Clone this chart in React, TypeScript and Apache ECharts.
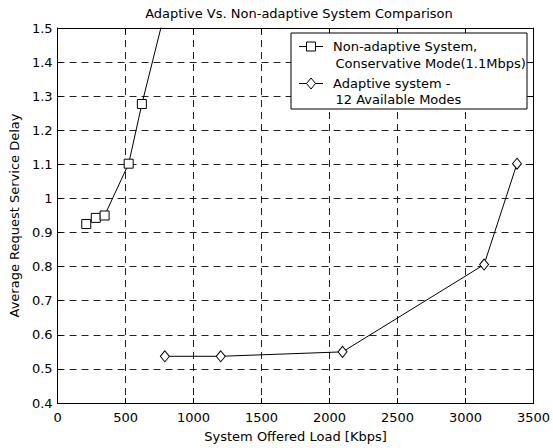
import React, { useEffect, useRef } from "react";
import * as echarts from "echarts";

const titleText = "Adaptive Vs. Non-adaptive System Comparison";
const xName = "System Offered Load [Kbps]";
const yName = "Average Request Service Delay";

const nonAdaptiveX = [211, 281, 346, 523, 620, 860];
const nonAdaptiveY = [0.925, 0.943, 0.95, 1.102, 1.277, 1.66];
const adaptiveX = [789, 1200, 2096, 3137, 3379];
const adaptiveY = [0.537, 0.537, 0.55, 0.806, 1.102];

const legendLines1 = ["Non-adaptive System,", "Conservative Mode(1.1Mbps)"];
const legendLines2 = ["Adaptive system -", "12 Available Modes"];

const FONT = "DejaVu Sans";
const FS = 13;

export default function App() {
  const ref = useRef<HTMLDivElement>(null);
  useEffect(() => {
    if (!ref.current) return;
    const chart = echarts.init(ref.current, undefined, { renderer: "svg" });
    const gridLine = { show: true, lineStyle: { color: "#222", type: [7, 5] as any, width: 1 } };
    const tick = { show: true, inside: true, length: 5, lineStyle: { color: "#000" } };
    const axisLine = { show: true, onZero: false, lineStyle: { color: "#000", width: 1 } };
    const label = { color: "#000", fontFamily: FONT, fontSize: FS };
    const txt = (text: string, x: number, y: number) => ({
      type: "text",
      x,
      y,
      style: { text, fill: "#000", font: `${FS}px "${FONT}"`, textVerticalAlign: "middle", verticalAlign: "middle" },
      z: 101,
    });
    chart.setOption({
      animation: false,
      backgroundColor: "#fff",
      title: {
        text: titleText,
        left: 294,
        textAlign: "center",
        top: 2,
        textStyle: { color: "#000", fontFamily: FONT, fontSize: FS, fontWeight: "normal" },
      },
      grid: { left: 54, right: 17, top: 28, bottom: 44, containLabel: false },
      xAxis: [
        {
          type: "value",
          min: 0,
          max: 3500,
          interval: 500,
          position: "bottom",
          axisLine,
          axisTick: tick,
          splitLine: gridLine,
          axisLabel: { ...label, margin: 8, formatter: (v: number) => String(v) },
          name: xName,
          nameLocation: "middle",
          nameGap: 27,
          nameTextStyle: { color: "#000", fontFamily: FONT, fontSize: FS },
        },
        {
          type: "value",
          min: 0,
          max: 3500,
          interval: 500,
          position: "top",
          axisLine,
          axisTick: tick,
          splitLine: { show: false },
          axisLabel: { show: false },
        },
      ],
      yAxis: [
        {
          type: "value",
          min: 0.4,
          max: 1.5,
          interval: 0.1,
          position: "left",
          axisLine,
          axisTick: tick,
          splitLine: gridLine,
          axisLabel: { ...label, margin: 5, formatter: (v: number) => String(Math.round(v * 10) / 10) },
          name: yName,
          nameLocation: "middle",
          nameGap: 32,
          nameTextStyle: { color: "#000", fontFamily: FONT, fontSize: FS },
        },
        {
          type: "value",
          min: 0.4,
          max: 1.5,
          interval: 0.1,
          position: "right",
          axisLine,
          axisTick: tick,
          splitLine: { show: false },
          axisLabel: { show: false },
        },
      ],
      series: [
        {
          name: "Non-adaptive System, Conservative Mode(1.1Mbps)",
          type: "line",
          data: nonAdaptiveX.map((x, i) => [x, nonAdaptiveY[i]]),
          symbol: "rect",
          symbolSize: 9,
          showAllSymbol: true,
          clip: true,
          lineStyle: { color: "#000", width: 1 },
          itemStyle: { color: "#fff", borderColor: "#000", borderWidth: 1 },
          z: 5,
        },
        {
          name: "Adaptive system - 12 Available Modes",
          type: "line",
          data: adaptiveX.map((x, i) => [x, adaptiveY[i]]),
          symbol: "diamond",
          symbolSize: [9, 11],
          showAllSymbol: true,
          clip: true,
          lineStyle: { color: "#000", width: 1 },
          itemStyle: { color: "#fff", borderColor: "#000", borderWidth: 1 },
          z: 5,
        },
      ],
      graphic: [
        {
          type: "rect",
          shape: { x: 291, y: 33, width: 236, height: 76 },
          style: { fill: "#fff", stroke: "#000", lineWidth: 1 },
          z: 100,
        },
        { type: "line", shape: { x1: 299, y1: 46.5, x2: 323, y2: 46.5 }, style: { stroke: "#000", lineWidth: 1 }, z: 101 },
        { type: "rect", shape: { x: 306.5, y: 42, width: 9, height: 9 }, style: { fill: "#fff", stroke: "#000", lineWidth: 1 }, z: 102 },
        { type: "line", shape: { x1: 299, y1: 83.5, x2: 323, y2: 83.5 }, style: { stroke: "#000", lineWidth: 1 }, z: 101 },
        {
          type: "polygon",
          shape: { points: [[311, 78], [315.5, 83.5], [311, 89], [306.5, 83.5]] },
          style: { fill: "#fff", stroke: "#000", lineWidth: 1 },
          z: 102,
        },
        txt(legendLines1[0], 333, 46.5),
        txt(legendLines1[1], 335.5, 63.5),
        txt(legendLines2[0], 333, 83.5),
        txt(legendLines2[1], 335.5, 99.5),
      ],
    });
    return () => chart.dispose();
  }, []);
  return (
    <div
      ref={ref}
      style={{ position: "fixed", left: 0, top: 0, width: 553, height: 448, background: "#fff" }}
    />
  );
}
